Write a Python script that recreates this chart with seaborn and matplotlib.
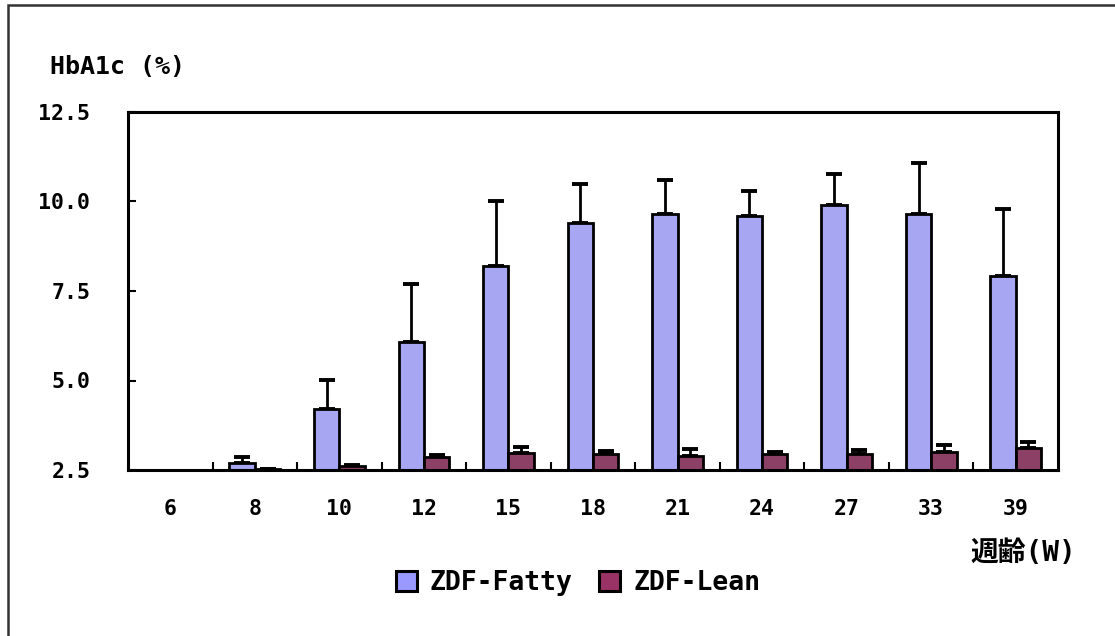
import numpy as np
import pandas as pd
import matplotlib
matplotlib.use("Agg")
import matplotlib.pyplot as plt
import seaborn as sns
from matplotlib.patches import Patch, Rectangle

# data
weeks = ["6", "8", "10", "12", "15", "18", "21", "24", "27", "33", "39"]
fatty = [2.40, 2.70, 4.20, 6.07, 8.20, 9.40, 9.65, 9.60, 9.90, 9.65, 7.92]
fatty_sd = [0.04, 0.16, 0.81, 1.63, 1.80, 1.10, 0.95, 0.70, 0.87, 1.43, 1.88]
lean = [2.35, 2.52, 2.60, 2.86, 2.97, 2.95, 2.90, 2.95, 2.95, 3.00, 3.12]
lean_sd = [0.03, 0.02, 0.05, 0.06, 0.17, 0.08, 0.18, 0.05, 0.11, 0.20, 0.16]
groups = ["ZDF-Fatty", "ZDF-Lean"]
colors = ["#9999FF", "#993366"]

df = pd.DataFrame({
    "week": weeks * 2,
    "hba1c": fatty + lean,
    "sd": fatty_sd + lean_sd,
    "group": [groups[0]] * len(weeks) + [groups[1]] * len(weeks),
})

sns.set_style("white")
plt.rcParams["font.family"] = ["DejaVu Sans Mono", "Noto Sans CJK JP"]
plt.rcParams["font.weight"] = "bold"
plt.rcParams["text.color"] = "black"
plt.rcParams["xtick.color"] = "black"
plt.rcParams["ytick.color"] = "black"

fig = plt.figure(figsize=(11.15, 6.36), dpi=100)
ax = fig.add_axes([128 / 1115, 1 - 470 / 636, 930 / 1115, 358 / 636])

sns.barplot(data=df, x="week", y="hba1c", hue="group", palette=colors,
            order=weeks, hue_order=groups, width=0.6, gap=0,
            edgecolor="black", linewidth=2.0, errorbar=None,
            legend=False, ax=ax, zorder=2)

# upward-only error bars at bar centres
for i, bar in enumerate(ax.patches):
    x = bar.get_x() + bar.get_width() / 2
    y = df["hba1c"].iloc[i]
    e = df["sd"].iloc[i]
    ax.errorbar(x, y, yerr=[[0], [e]], fmt="none", ecolor="black",
                elinewidth=2.0, capsize=6, capthick=2.8, zorder=1)

ax.set_ylim(2.5, 12.5)
ax.set_xlim(-0.5, len(weeks) - 0.5)
ax.set_yticks([2.5, 5.0, 7.5, 10.0, 12.5])
ax.set_yticklabels(["2.5", "5.0", "7.5", "10.0", "12.5"])
ax.set_xlabel("")
ax.set_ylabel("")

for s in ax.spines.values():
    s.set_visible(True)
    s.set_color("black")
    s.set_linewidth(2.2)

ax.tick_params(axis="y", direction="in", length=6, width=1.5, pad=27,
               labelsize=15.5, left=True)
ax.tick_params(axis="x", which="major", length=0, pad=21, labelsize=15.5)
ax.set_xticks(np.arange(len(weeks) - 1) + 0.5, minor=True)
ax.tick_params(axis="x", which="minor", direction="in", length=6, width=1.5,
               bottom=True)
for lab in ax.get_xticklabels() + ax.get_yticklabels():
    lab.set_fontweight("bold")

fig.text(50 / 1115, 1 - 67 / 636, "HbA1c (%)", fontsize=18,
         fontweight="bold", va="center", ha="left")
fig.text(1076 / 1115, 1 - 553 / 636, "週齢(W)", fontsize=20,
         fontweight="bold", va="center", ha="right")

handles = [Patch(facecolor=c, edgecolor="black", linewidth=2.2) for c in colors]
fig.legend(handles, groups, loc="center", bbox_to_anchor=(578 / 1115, 1 - 583 / 636),
           ncol=2, frameon=False, handlelength=0.8,
           handleheight=0.8, handletextpad=0.5, columnspacing=1.0,
           prop={"weight": "bold", "size": 19})

# outer frame of the figure
fig.patches.append(Rectangle((8 / 1115, -0.05), 1.1, 1 - 5 / 636 + 0.05,
                             transform=fig.transFigure, fill=False,
                             edgecolor="#333333", linewidth=1.8))

fig.savefig("out.png", dpi=100)
